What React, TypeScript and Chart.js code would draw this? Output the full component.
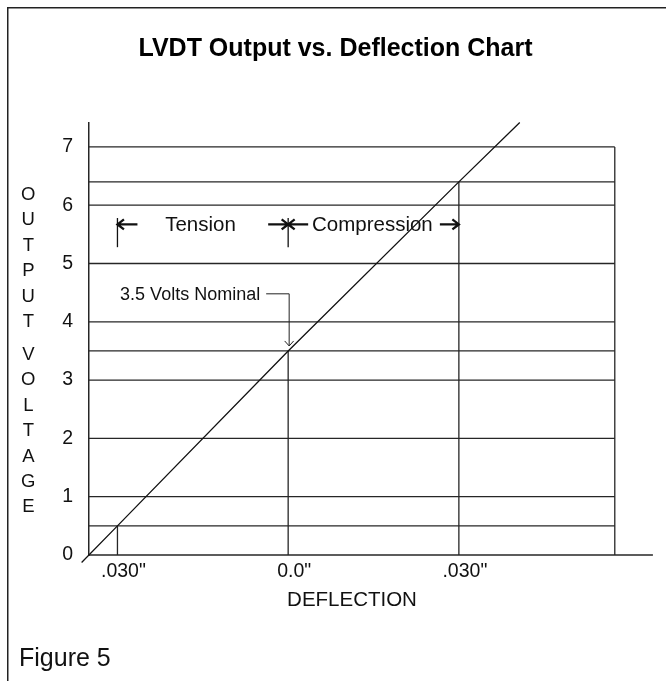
import React, { useEffect, useRef } from 'react';
import { Chart, registerables } from 'chart.js';

Chart.register(...registerables);

const FONT = '"Liberation Sans", Arial, Helvetica, sans-serif';

// ---- data ----
const deflection = [-0.0363, -0.03, 0, 0.03, 0.0407];
const outputVoltage = [-0.13, 0.5, 3.5, 6.4, 7.42];

const voltageTicks = [0, 1, 2, 3, 4, 5, 6, 7];
const voltageTickLabels = ['0', '1', '2', '3', '4', '5', '6', '7'];
const deflectionTicks = [-0.03, 0, 0.03];
const deflectionTickLabels = ['.030"', '0.0"', '.030"'];

const markerDeflections = [-0.03, 0, 0.03];
const markerVoltages = [0.5, 3.5, 6.4];
const nominalVoltage = 3.5;

const titleText = 'LVDT Output vs. Deflection Chart';
const yTitleText = 'OUTPUT VOLTAGE';
const xTitleText = 'DEFLECTION';
const figureText = 'Figure 5';
const rangeLabels = ['Tension', 'Compression'];
const nominalLabel = '3.5 Volts Nominal';

// ---- scale extents / annotation anchors (in data units) ----
const X_MIN = -0.035;
const X_MAX = 0.0664;
const AXIS_END = 0.0641;
const BOX_RIGHT = 0.0574;
const BOX_TOP = 7;
const Y_MIN = 0;
const Y_MAX = 7.41;
const RANGE_ARROW_V = 5.67;
const RANGE_TICK_TOP = 5.78;
const RANGE_TICK_BOTTOM = 5.28;
const RANGE_TEXT_V = 5.69;
const RANGE_TEXT_X = [-0.0154, 0.0148];
const NOMINAL_TEXT_V = 4.48;

function capText(ctx: CanvasRenderingContext2D, text: string, x: number, cy: number, size: number, align: CanvasTextAlign, weight = 'normal') {
  ctx.font = `${weight} ${size}px ${FONT}`;
  ctx.textAlign = align;
  ctx.textBaseline = 'alphabetic';
  ctx.fillStyle = '#111';
  ctx.fillText(text, x, cy + 0.358 * size);
}

function seg(ctx: CanvasRenderingContext2D, x1: number, y1: number, x2: number, y2: number) {
  ctx.beginPath();
  ctx.moveTo(x1, y1);
  ctx.lineTo(x2, y2);
  ctx.stroke();
}

function arrow(ctx: CanvasRenderingContext2D, tail: number, tip: number, y: number) {
  const dir = Math.sign(tip - tail);
  ctx.beginPath();
  ctx.moveTo(tail, y);
  ctx.lineTo(tip, y);
  ctx.moveTo(tip - dir * 6.5, y - 5);
  ctx.lineTo(tip, y);
  ctx.lineTo(tip - dir * 6.5, y + 5);
  ctx.stroke();
}

const decor = {
  id: 'decor',
  beforeDatasetsDraw(chart: any) {
    const { ctx, chartArea } = chart;
    const xs = chart.scales.x;
    const ys = chart.scales.y;
    const X = (v: number) => xs.getPixelForValue(v);
    const Y = (v: number) => ys.getPixelForValue(v);
    ctx.save();
    // outer frame
    ctx.strokeStyle = '#222';
    ctx.lineWidth = 1.5;
    ctx.beginPath();
    ctx.moveTo(7.75, chart.height);
    ctx.lineTo(7.75, 7.75);
    ctx.lineTo(chart.width, 7.75);
    ctx.stroke();

    ctx.strokeStyle = '#262626';
    ctx.lineWidth = 1.3;
    const right = X(BOX_RIGHT);
    const levels = [...voltageTicks.filter((v) => v > 0), ...markerVoltages];
    levels.forEach((v) => seg(ctx, chartArea.left, Y(v), right, Y(v)));
    // x axis line
    ctx.lineWidth = 1.5;
    seg(ctx, chartArea.left - 0.75, Y(0), X(AXIS_END), Y(0));
    ctx.lineWidth = 1.3;
    // right edge of box
    seg(ctx, right, Y(0), right, Y(BOX_TOP));
    // drop lines
    markerDeflections.forEach((d, i) => seg(ctx, X(d), Y(0), X(d), Y(markerVoltages[i])));
    ctx.restore();
  },
  afterDatasetsDraw(chart: any) {
    const { ctx } = chart;
    const xs = chart.scales.x;
    const ys = chart.scales.y;
    const X = (v: number) => xs.getPixelForValue(v);
    const Y = (v: number) => ys.getPixelForValue(v);
    ctx.save();

    // Y axis title (stacked letters)
    let ty = 193.3;
    ctx.fillStyle = '#111';
    for (const ch of yTitleText) {
      if (ch === ' ') {
        ty += 7.6;
        continue;
      }
      capText(ctx, ch, 28.3, ty, 18.5, 'center');
      ty += 25.4;
    }

    // X axis title
    capText(ctx, xTitleText, 352, 599, 20.5, 'center');

    // Figure label
    capText(ctx, figureText, 19, 657.5, 25, 'left');

    // Tension / Compression range markers
    ctx.strokeStyle = '#111';
    ctx.lineWidth = 1.3;
    const xa = X(markerDeflections[0]);
    const xb = X(markerDeflections[1]);
    const xc = X(markerDeflections[2]);
    seg(ctx, xa, Y(RANGE_TICK_TOP), xa, Y(RANGE_TICK_BOTTOM));
    seg(ctx, xb, Y(RANGE_TICK_TOP), xb, Y(RANGE_TICK_BOTTOM));
    ctx.lineWidth = 2.3;
    ctx.lineJoin = 'miter';
    const ay = Y(RANGE_ARROW_V);
    arrow(ctx, xa + 20, xa, ay);
    arrow(ctx, xb - 20, xb, ay);
    arrow(ctx, xb + 20, xb, ay);
    arrow(ctx, xc - 19, xc, ay);
    capText(ctx, rangeLabels[0], X(RANGE_TEXT_X[0]), Y(RANGE_TEXT_V), 20.5, 'center');
    capText(ctx, rangeLabels[1], X(RANGE_TEXT_X[1]), Y(RANGE_TEXT_V), 20.5, 'center');

    // Nominal label with leader
    const nx = X(0) + 1;
    const nyText = Y(NOMINAL_TEXT_V);
    const tip = Y(nominalVoltage) - 5;
    capText(ctx, nominalLabel, nx - 29, nyText, 18, 'right');
    ctx.lineWidth = 1;
    ctx.strokeStyle = '#222';
    ctx.beginPath();
    ctx.moveTo(nx - 23, nyText);
    ctx.lineTo(nx, nyText);
    ctx.lineTo(nx, tip);
    ctx.stroke();
    ctx.beginPath();
    ctx.moveTo(nx - 4.5, tip - 5);
    ctx.lineTo(nx, tip);
    ctx.lineTo(nx + 4.5, tip - 5);
    ctx.stroke();

    ctx.restore();
  },
};

function labelFor(values: number[], labels: string[], v: number) {
  let best = 0;
  values.forEach((t, i) => {
    if (Math.abs(t - v) < Math.abs(values[best] - v)) best = i;
  });
  return labels[best];
}

export default function App() {
  const canvasRef = useRef<HTMLCanvasElement | null>(null);

  useEffect(() => {
    document.body.style.margin = '0';
    document.body.style.overflow = 'hidden';
    const canvas = canvasRef.current;
    if (!canvas) return;
    const chart = new Chart(canvas, {
      type: 'line',
      data: {
        datasets: [
          {
            data: deflection.map((d, i) => ({ x: d, y: outputVoltage[i] })),
            borderColor: '#111',
            borderWidth: 1.3,
            pointRadius: 0,
            tension: 0,
            clip: false as any,
          },
        ],
      },
      options: {
        responsive: false,
        animation: false,
        devicePixelRatio: 1,
        layout: { padding: { left: 5, right: 0, top: 0, bottom: 0 } },
        plugins: {
          legend: { display: false },
          tooltip: { enabled: false },
          title: {
            display: true,
            text: titleText,
            color: '#000',
            font: { family: FONT, size: 25, weight: 'bold', lineHeight: 1.2 },
            padding: { top: 33.7, bottom: 59.3 },
          },
        },
        scales: {
          x: {
            type: 'linear',
            min: X_MIN,
            max: X_MAX,
            grid: { display: false, drawTicks: false },
            border: { display: false },
            afterBuildTicks: (s: any) => {
              s.ticks = deflectionTicks.map((v) => ({ value: v }));
            },
            afterFit: (s: any) => {
              s.height = 126;
            },
            ticks: {
              padding: 5,
              labelOffset: 6,
              maxRotation: 0,
              color: '#111',
              font: { family: FONT, size: 19.5 },
              callback: (v: any) => labelFor(deflectionTicks, deflectionTickLabels, Number(v)),
            },
          },
          y: {
            type: 'linear',
            min: Y_MIN,
            max: Y_MAX,
            grid: { display: false, drawTicks: false },
            border: { display: true, color: '#262626', width: 1.5 },
            afterBuildTicks: (s: any) => {
              s.ticks = voltageTicks.map((v) => ({ value: v }));
            },
            afterFit: (s: any) => {
              s.width = 84;
            },
            ticks: {
              padding: 16,
              color: '#111',
              font: { family: FONT, size: 19.5 },
              callback: (v: any) => labelFor(voltageTicks, voltageTickLabels, Number(v)),
            },
          },
        },
      },
      plugins: [decor],
    });
    return () => chart.destroy();
  }, []);

  return (
    <canvas
      ref={canvasRef}
      width={666}
      height={681}
      style={{ display: 'block', width: 666, height: 681 }}
    />
  );
}
